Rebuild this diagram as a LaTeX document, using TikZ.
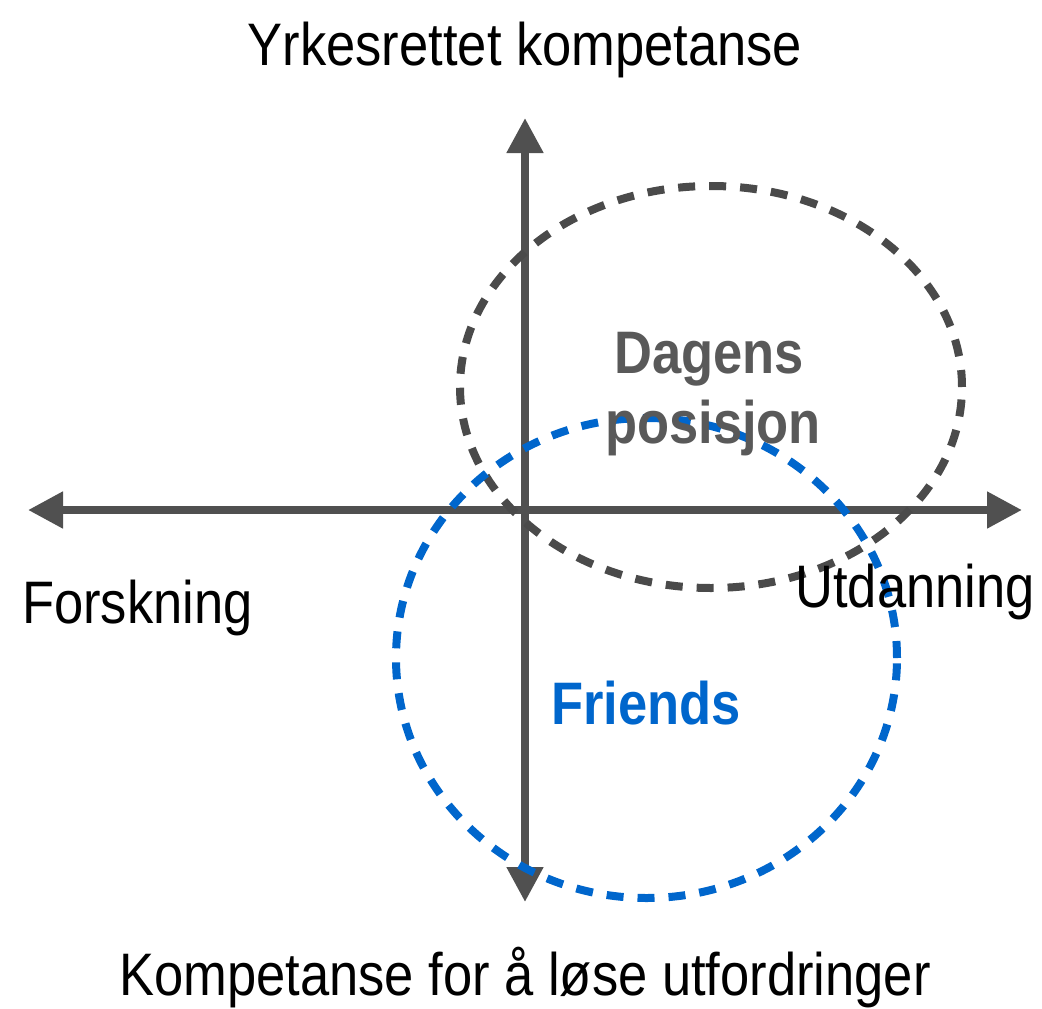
\documentclass[tikz,border=0pt]{standalone}
\usepackage{fontspec}
\setmainfont{Liberation Sans}
\newfontfamily\narrowfont[FakeStretch=0.875]{Liberation Sans}
\usetikzlibrary{arrows.meta}

\definecolor{axisgray}{HTML}{505050}
\definecolor{ringgray}{HTML}{4A4A4A}
\definecolor{labelgray}{HTML}{595959}
\definecolor{ringblue}{HTML}{0066CC}

\tikzset{
  axis/.style={draw=axisgray, line width=8pt,
    {Triangle[length=35pt,width=35pt]}-{Triangle[length=35pt,width=35pt]}},
  ring/.style={line width=8pt, dash pattern=on 17pt off 14pt},
  axislabel/.style={inner sep=0pt, font=\narrowfont\fontsize{60}{60}\selectfont},
  ringlabel/.style={inner sep=0pt, align=center,
    font=\narrowfont\bfseries\fontsize{60}{70}\selectfont},
}

\begin{document}
\begin{tikzpicture}[x=1pt, y=-1pt]
  \useasboundingbox (0,0) rectangle (1042,1009);

  % axis end points
  \coordinate (west)  at (28,510);
  \coordinate (east)  at (1022,510);
  \coordinate (north) at (525,118);
  \coordinate (south) at (525,902);

  \draw[axis] (west) -- (east);
  \draw[axis] (north) -- (south);

  % today's position and the Friends region
  \draw[ring, draw=ringgray] (711,387) ellipse [x radius=251pt, y radius=201pt];
  \draw[ring, draw=ringblue] (646.5,658) ellipse [x radius=250.5pt, y radius=240pt];

  % axis labels
  \node[axislabel, anchor=base] (top) at (525,65) {Yrkesrettet kompetanse};
  \node[axislabel, anchor=base] (bottom) at (525,995) {Kompetanse for å løse utfordringer};
  \node[axislabel, anchor=base west] (left) at (22,623) {Forskning};
  \node[axislabel, anchor=base east] (right) at (1035,607) {Utdanning};

  % region labels
  \node[ringlabel, text=labelgray, anchor=base] (today) at (709,373) {Dagens};
  \node[ringlabel, text=labelgray, anchor=base] (today2) at (713,443) {posisjon};
  \node[ringlabel, text=ringblue, anchor=base] (friends) at (646,724) {Friends};
\end{tikzpicture}
\end{document}
